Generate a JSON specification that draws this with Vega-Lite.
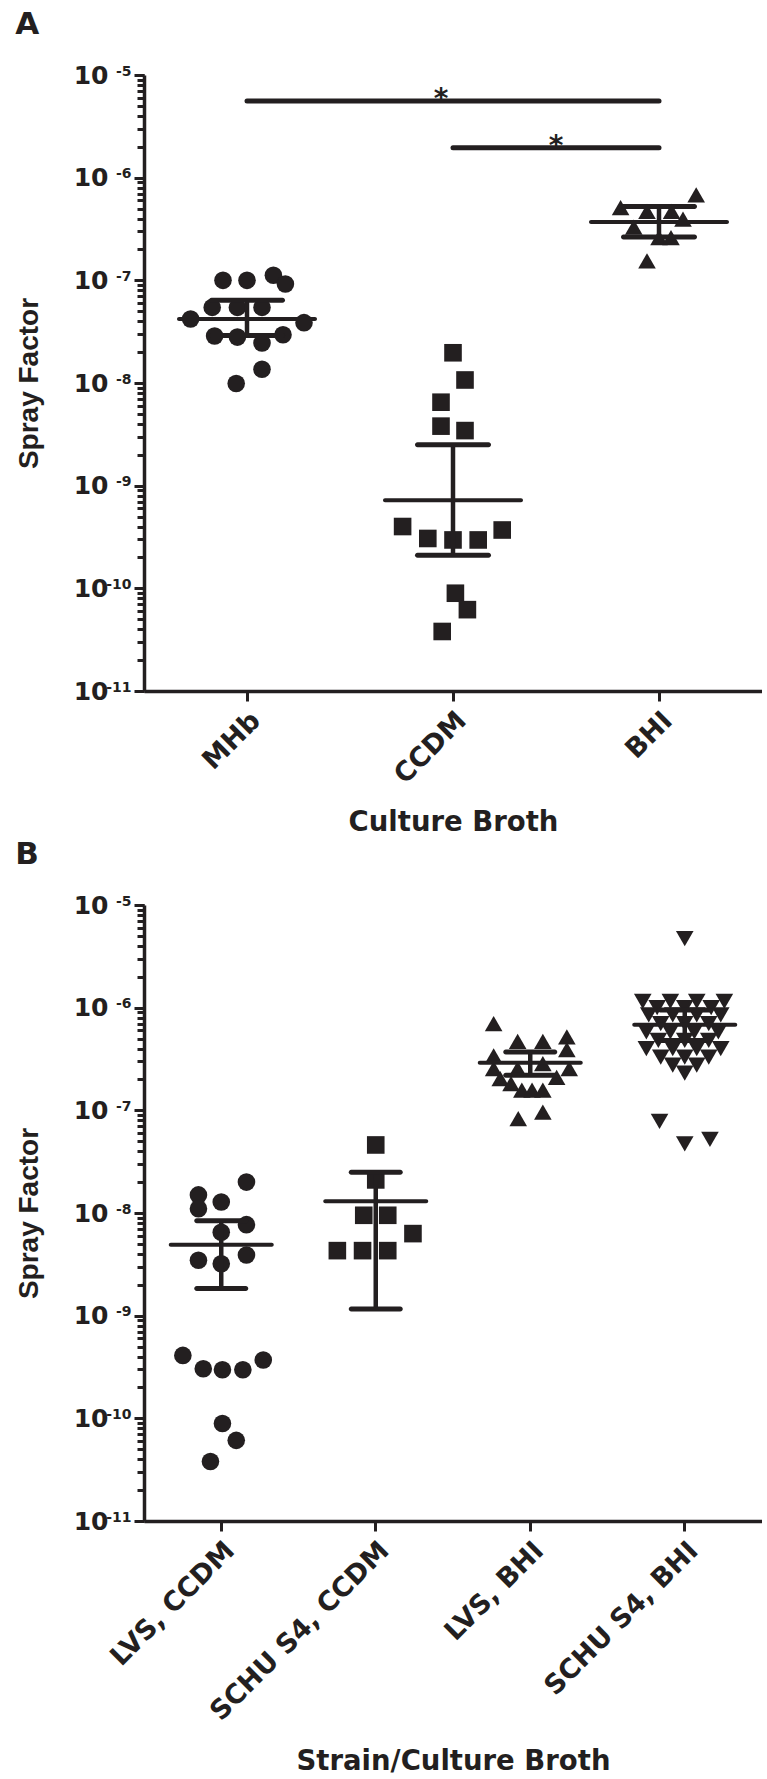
{
  "$schema": "https://vega.github.io/schema/vega-lite/v6.json",
  "padding": {"left": 15, "top": 9, "right": 0, "bottom": 0},
  "background": "white",
  "bounds": "flush",
  "spacing": 214,
  "resolve": {"scale": {"shape": "independent", "xOffset": "independent"}},
  "config": {
    "view": {"stroke": null},
    "axis": {
      "grid": false,
      "domainColor": "#231f20",
      "domainWidth": 3.5,
      "tickColor": "#231f20",
      "tickWidth": 3,
      "labelColor": "#231f20",
      "titleColor": "#231f20",
      "labelFont": "DejaVu Sans",
      "labelFontWeight": "bold",
      "labelFontSize": 25,
      "titleFont": "DejaVu Sans",
      "titleFontWeight": "bold",
      "titleFontSize": 27.5,
      "labelOverlap": false,
      "labelBound": false,
      "labelLimit": 400
    },
    "title": {"color": "#231f20"}
  },
  "datasets": {
    "ptsA": [
      {"group": "MHb", "value": 1.0e-7, "col": -2},
      {"group": "MHb", "value": 1.0e-7, "col": 0},
      {"group": "MHb", "value": 1.12e-7, "col": 2.2},
      {"group": "MHb", "value": 9.2e-8, "col": 3.2},
      {"group": "MHb", "value": 5.45e-8, "col": -2.9},
      {"group": "MHb", "value": 5.45e-8, "col": -0.8},
      {"group": "MHb", "value": 5.45e-8, "col": 1.25},
      {"group": "MHb", "value": 4.2e-8, "col": -4.7},
      {"group": "MHb", "value": 3.87e-8, "col": 4.75},
      {"group": "MHb", "value": 2.87e-8, "col": -2.7},
      {"group": "MHb", "value": 2.8e-8, "col": -0.8},
      {"group": "MHb", "value": 2.95e-8, "col": 3},
      {"group": "MHb", "value": 2.45e-8, "col": 1.25},
      {"group": "MHb", "value": 1.36e-8, "col": 1.25},
      {"group": "MHb", "value": 9.9e-9, "col": -0.9},
      {"group": "CCDM", "value": 1.97e-8, "col": 0},
      {"group": "CCDM", "value": 1.07e-8, "col": 1},
      {"group": "CCDM", "value": 6.5e-9, "col": -1},
      {"group": "CCDM", "value": 3.8e-9, "col": -1},
      {"group": "CCDM", "value": 3.44e-9, "col": 1},
      {"group": "CCDM", "value": 4.0e-10, "col": -4.2},
      {"group": "CCDM", "value": 3.06e-10, "col": -2.1},
      {"group": "CCDM", "value": 2.96e-10, "col": 0},
      {"group": "CCDM", "value": 2.96e-10, "col": 2.1},
      {"group": "CCDM", "value": 3.7e-10, "col": 4.1},
      {"group": "CCDM", "value": 8.96e-11, "col": 0.2},
      {"group": "CCDM", "value": 6.2e-11, "col": 1.2},
      {"group": "CCDM", "value": 3.8e-11, "col": -0.9},
      {"group": "BHI", "value": 6.8e-7, "col": 3.1},
      {"group": "BHI", "value": 5.1e-7, "col": -3.2},
      {"group": "BHI", "value": 4.7e-7, "col": -1},
      {"group": "BHI", "value": 4.7e-7, "col": 1.05},
      {"group": "BHI", "value": 3.95e-7, "col": 2},
      {"group": "BHI", "value": 3.3e-7, "col": -2.1},
      {"group": "BHI", "value": 2.6e-7, "col": 0},
      {"group": "BHI", "value": 2.6e-7, "col": 1},
      {"group": "BHI", "value": 1.55e-7, "col": -1}
    ],
    "sumA": [
      {"group": "MHb", "mean": 4.2e-8, "lo": 2.9e-8, "hi": 6.4e-8},
      {"group": "CCDM", "mean": 7.2e-10, "lo": 2.1e-10, "hi": 2.5e-9},
      {"group": "BHI", "mean": 3.7e-7, "lo": 2.64e-7, "hi": 5.25e-7}
    ],
    "sigA": [
      {"group": "MHb", "group2": "BHI", "y": 5.58e-6, "at": "CCDM", "col": -1},
      {"group": "CCDM", "group2": "BHI", "y": 1.96e-6, "at": "CCDM", "col": 8.6}
    ],
    "ptsB": [
      {"group": "LVS, CCDM", "value": 1.5e-8, "col": -1.9},
      {"group": "LVS, CCDM", "value": 1.1e-8, "col": -1.9},
      {"group": "LVS, CCDM", "value": 1.28e-8, "col": 0},
      {"group": "LVS, CCDM", "value": 2.0e-8, "col": 2.1},
      {"group": "LVS, CCDM", "value": 7.7e-9, "col": 2.1},
      {"group": "LVS, CCDM", "value": 6.5e-9, "col": 0},
      {"group": "LVS, CCDM", "value": 3.47e-9, "col": -1.9},
      {"group": "LVS, CCDM", "value": 3.2e-9, "col": 0},
      {"group": "LVS, CCDM", "value": 3.9e-9, "col": 2.1},
      {"group": "LVS, CCDM", "value": 4.1e-10, "col": -3.2},
      {"group": "LVS, CCDM", "value": 3.04e-10, "col": -1.5},
      {"group": "LVS, CCDM", "value": 2.97e-10, "col": 0.1},
      {"group": "LVS, CCDM", "value": 2.97e-10, "col": 1.8},
      {"group": "LVS, CCDM", "value": 3.7e-10, "col": 3.5},
      {"group": "LVS, CCDM", "value": 8.9e-11, "col": 0.1},
      {"group": "LVS, CCDM", "value": 6.1e-11, "col": 1.25},
      {"group": "LVS, CCDM", "value": 3.8e-11, "col": -0.9},
      {"group": "SCHU S4, CCDM", "value": 4.6e-8, "col": 0},
      {"group": "SCHU S4, CCDM", "value": 2.1e-8, "col": 0},
      {"group": "SCHU S4, CCDM", "value": 9.5e-9, "col": -1},
      {"group": "SCHU S4, CCDM", "value": 9.5e-9, "col": 1},
      {"group": "SCHU S4, CCDM", "value": 6.3e-9, "col": 3.1},
      {"group": "SCHU S4, CCDM", "value": 4.3e-9, "col": -3.2},
      {"group": "SCHU S4, CCDM", "value": 4.3e-9, "col": -1.1},
      {"group": "SCHU S4, CCDM", "value": 4.3e-9, "col": 1},
      {"group": "LVS, BHI", "value": 7.0e-7, "col": -3.05},
      {"group": "LVS, BHI", "value": 4.7e-7, "col": -1.05},
      {"group": "LVS, BHI", "value": 4.7e-7, "col": 1.05},
      {"group": "LVS, BHI", "value": 5.2e-7, "col": 3.05},
      {"group": "LVS, BHI", "value": 3.9e-7, "col": 3.05},
      {"group": "LVS, BHI", "value": 3.4e-7, "col": -3.05},
      {"group": "LVS, BHI", "value": 2.55e-7, "col": -3.05},
      {"group": "LVS, BHI", "value": 2.55e-7, "col": -1.05},
      {"group": "LVS, BHI", "value": 2.85e-7, "col": 1.05},
      {"group": "LVS, BHI", "value": 2.55e-7, "col": 3.25},
      {"group": "LVS, BHI", "value": 2.04e-7, "col": -2.5},
      {"group": "LVS, BHI", "value": 1.82e-7, "col": -1.6},
      {"group": "LVS, BHI", "value": 2.1e-7, "col": 2.2},
      {"group": "LVS, BHI", "value": 1.57e-7, "col": -0.7},
      {"group": "LVS, BHI", "value": 1.57e-7, "col": 0.15},
      {"group": "LVS, BHI", "value": 1.57e-7, "col": 1.05},
      {"group": "LVS, BHI", "value": 8.3e-8, "col": -1},
      {"group": "LVS, BHI", "value": 9.6e-8, "col": 1.05},
      {"group": "SCHU S4, BHI", "value": 4.7e-6, "col": 0},
      {"group": "SCHU S4, BHI", "value": 1.15e-6, "col": -3.5},
      {"group": "SCHU S4, BHI", "value": 1.15e-6, "col": -1.2},
      {"group": "SCHU S4, BHI", "value": 1.15e-6, "col": 1},
      {"group": "SCHU S4, BHI", "value": 1.15e-6, "col": 3.3},
      {"group": "SCHU S4, BHI", "value": 1.0e-6, "col": -2.3},
      {"group": "SCHU S4, BHI", "value": 1.0e-6, "col": 0},
      {"group": "SCHU S4, BHI", "value": 1.0e-6, "col": 2.2},
      {"group": "SCHU S4, BHI", "value": 8.5e-7, "col": -3},
      {"group": "SCHU S4, BHI", "value": 8.5e-7, "col": -1},
      {"group": "SCHU S4, BHI", "value": 8.5e-7, "col": 1},
      {"group": "SCHU S4, BHI", "value": 8.5e-7, "col": 3},
      {"group": "SCHU S4, BHI", "value": 7.0e-7, "col": -2},
      {"group": "SCHU S4, BHI", "value": 7.0e-7, "col": 0},
      {"group": "SCHU S4, BHI", "value": 7.0e-7, "col": 2},
      {"group": "SCHU S4, BHI", "value": 5.8e-7, "col": -3.2},
      {"group": "SCHU S4, BHI", "value": 5.8e-7, "col": -1.2},
      {"group": "SCHU S4, BHI", "value": 5.8e-7, "col": 0.8},
      {"group": "SCHU S4, BHI", "value": 5.8e-7, "col": 2.8},
      {"group": "SCHU S4, BHI", "value": 4.8e-7, "col": -2.2},
      {"group": "SCHU S4, BHI", "value": 4.8e-7, "col": 0},
      {"group": "SCHU S4, BHI", "value": 4.8e-7, "col": 2},
      {"group": "SCHU S4, BHI", "value": 4.0e-7, "col": -3.2},
      {"group": "SCHU S4, BHI", "value": 4.0e-7, "col": -1},
      {"group": "SCHU S4, BHI", "value": 4.0e-7, "col": 1},
      {"group": "SCHU S4, BHI", "value": 4.0e-7, "col": 3},
      {"group": "SCHU S4, BHI", "value": 3.3e-7, "col": -2},
      {"group": "SCHU S4, BHI", "value": 3.3e-7, "col": 0},
      {"group": "SCHU S4, BHI", "value": 3.3e-7, "col": 2},
      {"group": "SCHU S4, BHI", "value": 2.75e-7, "col": -1},
      {"group": "SCHU S4, BHI", "value": 2.75e-7, "col": 1},
      {"group": "SCHU S4, BHI", "value": 2.3e-7, "col": 0},
      {"group": "SCHU S4, BHI", "value": 7.8e-8, "col": -2.1},
      {"group": "SCHU S4, BHI", "value": 4.7e-8, "col": 0},
      {"group": "SCHU S4, BHI", "value": 5.2e-8, "col": 2.1}
    ],
    "sumB": [
      {"group": "LVS, CCDM", "mean": 4.9e-9, "lo": 1.84e-9, "hi": 8.4e-9},
      {"group": "SCHU S4, CCDM", "mean": 1.3e-8, "lo": 1.16e-9, "hi": 2.5e-8},
      {"group": "LVS, BHI", "mean": 2.9e-7, "lo": 2.2e-7, "hi": 3.7e-7},
      {"group": "SCHU S4, BHI", "mean": 6.8e-7, "lo": 4.8e-7, "hi": 9.5e-7}
    ]
  },
  "vconcat": [
    {
      "width": 618,
      "height": 616,
      "title": {"text": "A", "anchor": "start", "frame": "bounds", "font": "DejaVu Sans", "fontSize": 31, "fontWeight": "bold", "baseline": "alphabetic", "offset": -2},
      "resolve": {"axis": {"y": "independent"}},
      "encoding": {
        "x": {
          "field": "group", "type": "nominal",
          "scale": {"type": "band", "domain": ["MHb", "CCDM", "BHI"], "paddingInner": 0, "paddingOuter": 0},
          "axis": {"title": "Culture Broth", "labelAngle": -45, "labelFontSize": 27, "tickSize": 10, "labelPadding": 6, "titlePadding": 20}
        }
      },
      "layer": [
        {
          "data": {"name": "sigA"},
          "mark": {"type": "rule", "strokeWidth": 5, "strokeCap": "round", "color": "#231f20"},
          "encoding": {
            "x2": {"field": "group2"},
            "y": {"field": "y", "type": "quantitative", "axis": null}
          }
        },
        {
          "data": {"name": "sigA"},
          "mark": {"type": "text", "text": "*", "font": "DejaVu Sans", "fontWeight": "bold", "fontSize": 28, "baseline": "alphabetic", "dy": 7, "color": "#231f20"},
          "encoding": {
            "x": {"field": "at", "type": "nominal"},
            "xOffset": {"field": "col", "type": "quantitative", "scale": {"domain": [-10, 10], "range": [-17, 223]}},
            "y": {"field": "y", "type": "quantitative", "axis": null}
          }
        },
        {
          "data": {"name": "ptsA"},
          "mark": {"type": "point", "filled": true, "opacity": 1, "size": 310, "color": "#231f20"},
          "encoding": {
            "xOffset": {"field": "col", "type": "quantitative", "scale": {"domain": [-10, 10], "range": [-17, 223]}},
            "y": {
              "field": "value", "type": "quantitative",
              "scale": {"type": "log", "domain": [1e-11, 1e-5], "nice": false},
              "axis": {
                "orient": "left",
                "title": "Spray Factor",
                "titleFont": "Liberation Sans",
                "titleFontSize": 28,
                "titlePadding": 30,
                "values": [1e-11, 1e-10, 1e-9, 1e-8, 1e-7, 1e-6, 1e-5],
                "labelExpr": "datum.value <= 1e-10 ? '10\u00a0' : '10'",
                "labelFontSize": 25,
                "labelBaseline": "middle",
                "tickSize": 10,
                "labelPadding": 26
              }
            },
            "shape": {"field": "group", "type": "nominal", "scale": {"domain": ["MHb", "CCDM", "BHI"], "range": ["circle", "square", "triangle-up"]}, "legend": null}
          }
        },
        {
          "data": {"name": "sumA"},
          "mark": {"type": "rule", "strokeWidth": 4.5, "color": "#231f20"},
          "encoding": {
            "y": {
              "field": "lo", "type": "quantitative",
              "axis": {
                "orient": "left",
                "title": null,
                "domain": false,
                "values": [1e-11,2e-11,3e-11,4e-11,5e-11,6e-11,7e-11,8e-11,9e-11,1e-10,2e-10,3e-10,4e-10,5e-10,6e-10,7e-10,8e-10,9e-10,1e-9,2e-9,3e-9,4e-9,5e-9,6e-9,7e-9,8e-9,9e-9,1e-8,2e-8,3e-8,4e-8,5e-8,6e-8,7e-8,8e-8,9e-8,1e-7,2e-7,3e-7,4e-7,5e-7,6e-7,7e-7,8e-7,9e-7,1e-6,2e-6,3e-6,4e-6,5e-6,6e-6,7e-6,8e-6,9e-6,1e-5],
                "labelExpr": "datum.value == 1e-5 ? '-5' : datum.value == 1e-6 ? '-6' : datum.value == 1e-7 ? '-7' : datum.value == 1e-8 ? '-8' : datum.value == 1e-9 ? '-9' : datum.value == 1e-10 ? '-10' : datum.value == 1e-11 ? '-11' : ''",
                "labelFontSize": 14,
                "labelBaseline": "alphabetic",
                "tickSize": 7,
                "labelPadding": 6
              }
            },
            "y2": {"field": "hi"}
          }
        },
        {
          "data": {"name": "sumA"},
          "mark": {"type": "tick", "size": 140, "thickness": 4, "cornerRadius": 2, "color": "#231f20", "opacity": 1},
          "encoding": {"y": {"field": "mean", "type": "quantitative", "axis": null}}
        },
        {
          "data": {"name": "sumA"},
          "mark": {"type": "tick", "size": 76, "thickness": 5, "cornerRadius": 2.5, "color": "#231f20", "opacity": 1},
          "encoding": {"y": {"field": "hi", "type": "quantitative", "axis": null}}
        },
        {
          "data": {"name": "sumA"},
          "mark": {"type": "tick", "size": 76, "thickness": 5, "cornerRadius": 2.5, "color": "#231f20", "opacity": 1},
          "encoding": {"y": {"field": "lo", "type": "quantitative", "axis": null}}
        }
      ]
    },
    {
      "width": 618,
      "height": 616,
      "title": {"text": "B", "anchor": "start", "frame": "bounds", "font": "DejaVu Sans", "fontSize": 31, "fontWeight": "bold", "baseline": "alphabetic", "offset": -2},
      "resolve": {"axis": {"y": "independent"}},
      "encoding": {
        "x": {
          "field": "group", "type": "nominal",
          "scale": {"type": "band", "domain": ["LVS, CCDM", "SCHU S4, CCDM", "LVS, BHI", "SCHU S4, BHI"], "paddingInner": 0, "paddingOuter": 0},
          "axis": {"title": "Strain/Culture Broth", "labelAngle": -45, "labelFontSize": 27, "tickSize": 10, "labelPadding": 6, "titlePadding": 26}
        }
      },
      "layer": [
        {
          "data": {"name": "ptsB"},
          "mark": {"type": "point", "filled": true, "opacity": 1, "size": 310, "color": "#231f20"},
          "encoding": {
            "xOffset": {"field": "col", "type": "quantitative", "scale": {"domain": [-10, 10], "range": [-42.75, 197.25]}},
            "y": {
              "field": "value", "type": "quantitative",
              "scale": {"type": "log", "domain": [1e-11, 1e-5], "nice": false},
              "axis": {
                "orient": "left",
                "title": "Spray Factor",
                "titleFont": "Liberation Sans",
                "titleFontSize": 28,
                "titlePadding": 30,
                "values": [1e-11, 1e-10, 1e-9, 1e-8, 1e-7, 1e-6, 1e-5],
                "labelExpr": "datum.value <= 1e-10 ? '10\u00a0' : '10'",
                "labelFontSize": 25,
                "labelBaseline": "middle",
                "tickSize": 10,
                "labelPadding": 26
              }
            },
            "shape": {"field": "group", "type": "nominal", "scale": {"domain": ["LVS, CCDM", "SCHU S4, CCDM", "LVS, BHI", "SCHU S4, BHI"], "range": ["circle", "square", "triangle-up", "M-1,-0.866L1,-0.866L0,0.866Z"]}, "legend": null}
          }
        },
        {
          "data": {"name": "sumB"},
          "mark": {"type": "rule", "strokeWidth": 4.5, "color": "#231f20"},
          "encoding": {
            "y": {
              "field": "lo", "type": "quantitative",
              "axis": {
                "orient": "left",
                "title": null,
                "domain": false,
                "values": [1e-11,2e-11,3e-11,4e-11,5e-11,6e-11,7e-11,8e-11,9e-11,1e-10,2e-10,3e-10,4e-10,5e-10,6e-10,7e-10,8e-10,9e-10,1e-9,2e-9,3e-9,4e-9,5e-9,6e-9,7e-9,8e-9,9e-9,1e-8,2e-8,3e-8,4e-8,5e-8,6e-8,7e-8,8e-8,9e-8,1e-7,2e-7,3e-7,4e-7,5e-7,6e-7,7e-7,8e-7,9e-7,1e-6,2e-6,3e-6,4e-6,5e-6,6e-6,7e-6,8e-6,9e-6,1e-5],
                "labelExpr": "datum.value == 1e-5 ? '-5' : datum.value == 1e-6 ? '-6' : datum.value == 1e-7 ? '-7' : datum.value == 1e-8 ? '-8' : datum.value == 1e-9 ? '-9' : datum.value == 1e-10 ? '-10' : datum.value == 1e-11 ? '-11' : ''",
                "labelFontSize": 14,
                "labelBaseline": "alphabetic",
                "tickSize": 7,
                "labelPadding": 6
              }
            },
            "y2": {"field": "hi"}
          }
        },
        {
          "data": {"name": "sumB"},
          "mark": {"type": "tick", "size": 105, "thickness": 4, "cornerRadius": 2, "color": "#231f20", "opacity": 1},
          "encoding": {"y": {"field": "mean", "type": "quantitative", "axis": null}}
        },
        {
          "data": {"name": "sumB"},
          "mark": {"type": "tick", "size": 54, "thickness": 5, "cornerRadius": 2.5, "color": "#231f20", "opacity": 1},
          "encoding": {"y": {"field": "hi", "type": "quantitative", "axis": null}}
        },
        {
          "data": {"name": "sumB"},
          "mark": {"type": "tick", "size": 54, "thickness": 5, "cornerRadius": 2.5, "color": "#231f20", "opacity": 1},
          "encoding": {"y": {"field": "lo", "type": "quantitative", "axis": null}}
        }
      ]
    }
  ]
}
